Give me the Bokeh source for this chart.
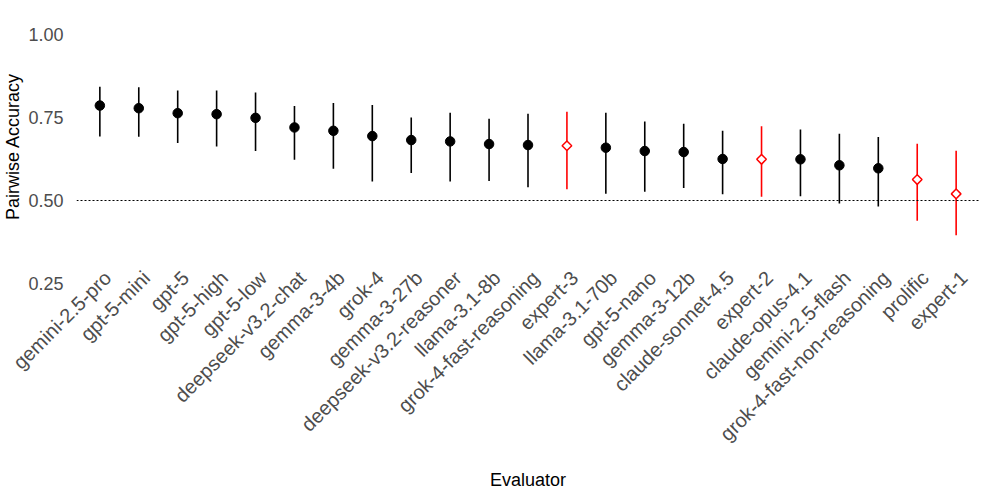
import math
from bokeh.plotting import figure
from bokeh.models import Range1d, FixedTicker, Span, ColumnDataSource, LinearAxis
from bokeh.embed import file_html
from bokeh.resources import INLINE

evaluators = ["gemini-2.5-pro", "gpt-5-mini", "gpt-5", "gpt-5-high", "gpt-5-low",
              "deepseek-v3.2-chat", "gemma-3-4b", "grok-4", "gemma-3-27b",
              "deepseek-v3.2-reasoner", "llama-3.1-8b", "grok-4-fast-reasoning",
              "expert-3", "llama-3.1-70b", "gpt-5-nano", "gemma-3-12b",
              "claude-sonnet-4.5", "expert-2", "claude-opus-4.1", "gemini-2.5-flash",
              "grok-4-fast-non-reasoning", "prolific", "expert-1"]
accuracy = [0.786, 0.778, 0.763, 0.760, 0.749, 0.720, 0.710, 0.694, 0.682, 0.678,
            0.670, 0.667, 0.665, 0.659, 0.649, 0.646, 0.625, 0.624, 0.624, 0.606,
            0.597, 0.563, 0.520]
upper = [0.843, 0.841, 0.831, 0.831, 0.825, 0.785, 0.794, 0.788, 0.750, 0.764,
         0.746, 0.761, 0.767, 0.764, 0.738, 0.731, 0.710, 0.724, 0.714, 0.701,
         0.691, 0.671, 0.650]
lower = [0.693, 0.692, 0.673, 0.663, 0.649, 0.623, 0.596, 0.557, 0.583, 0.557,
         0.559, 0.540, 0.534, 0.520, 0.526, 0.538, 0.519, 0.511, 0.513, 0.491,
         0.482, 0.439, 0.395]
human = ["expert-3", "expert-2", "prolific", "expert-1"]
y_ticks = [0.25, 0.50, 0.75, 1.00]
y_tick_labels = ["0.25", "0.50", "0.75", "1.00"]
chance = 0.5

xs = list(range(1, len(evaluators) + 1))
is_h = [e in human for e in evaluators]

def sub(flag):
    idx = [i for i in range(len(evaluators)) if is_h[i] == flag]
    return ColumnDataSource(dict(x=[xs[i] for i in idx],
                                 y=[accuracy[i] for i in idx],
                                 lo=[lower[i] for i in idx],
                                 hi=[upper[i] for i in idx]))

src_m = sub(False)
src_h = sub(True)

x_lo, x_hi = 0.4, len(evaluators) + 0.6
label_shift = 0.2  # rotated labels end slightly right of each tick, as in ggplot

p = figure(width=980, height=492, output_backend="svg", toolbar_location=None,
           x_range=Range1d(x_lo, x_hi),
           y_range=Range1d(0.2289, 1.0964),
           x_axis_location=None,
           min_border_left=66, min_border_right=1, min_border_top=2,
           min_border_bottom=202)
p.extra_x_ranges = {"labels": Range1d(x_lo - label_shift, x_hi - label_shift)}
xaxis = LinearAxis(x_range_name="labels")
p.add_layout(xaxis, "below")

p.outline_line_color = None
p.xgrid.visible = False
p.ygrid.visible = False
p.background_fill_color = "white"
p.border_fill_color = "white"

p.add_layout(Span(location=chance, dimension="width", line_color="black",
                  line_dash="2 2", line_width=1.2))

p.segment(x0="x", y0="lo", x1="x", y1="hi", source=src_m, line_color="black", line_width=1.6)
p.segment(x0="x", y0="lo", x1="x", y1="hi", source=src_h, line_color="#FF0000", line_width=1.6)
p.scatter(x="x", y="y", source=src_m, marker="circle", size=9.5,
          fill_color="black", line_color="black")
p.scatter(x="x", y="y", source=src_h, marker="square", size=6.8, angle=math.pi / 4,
          fill_color="white", line_color="#FF0000", line_width=1.5)

xaxis.ticker = FixedTicker(ticks=xs)
xaxis.major_label_overrides = {x: e for x, e in zip(xs, evaluators)}
xaxis.major_label_orientation = math.pi / 4
p.yaxis.ticker = FixedTicker(ticks=y_ticks)
p.yaxis.major_label_overrides = {t: l for t, l in zip(y_ticks, y_tick_labels)}

for ax in (xaxis, p.yaxis[0]):
    ax.axis_line_color = None
    ax.major_tick_line_color = None
    ax.minor_tick_line_color = None
    ax.major_label_text_color = "#4D4D4D"
    ax.major_label_text_font = "Liberation Sans"
    ax.axis_label_text_font = "Liberation Sans"
    ax.axis_label_text_font_size = "18px"
    ax.axis_label_text_font_style = "normal"
    ax.axis_label_text_color = "black"

xaxis.major_label_text_font_size = "20px"
p.yaxis.major_label_text_font_size = "18px"
xaxis.axis_label = "Evaluator"
p.yaxis.axis_label = "Pairwise Accuracy"
xaxis.major_label_standoff = -22
p.yaxis.major_label_standoff = 7
p.yaxis.axis_label_standoff = 2
xaxis.axis_label_standoff = 14

open("out.html", "w").write(file_html(p, INLINE))
